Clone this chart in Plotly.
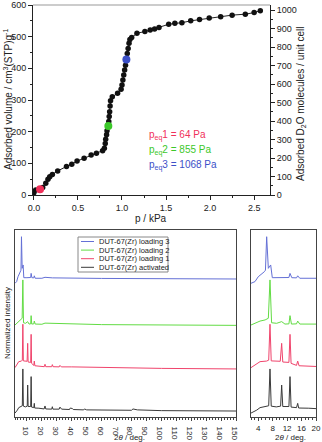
import plotly.graph_objects as go

# ---------------- Isotherm data (top panel) ----------------
iso_p = [0.0, 0.02, 0.07, 0.10, 0.135, 0.16, 0.18, 0.21, 0.27, 0.37, 0.43, 0.49, 0.57, 0.65, 0.71,
         0.78, 0.80, 0.81, 0.815, 0.825, 0.83, 0.845, 0.85, 0.855, 0.86, 0.865, 0.87, 0.89, 0.95,
         0.99, 1.0, 1.01, 1.02, 1.03, 1.04, 1.05, 1.06, 1.07, 1.08, 1.09, 1.11, 1.17, 1.26, 1.32,
         1.37, 1.42, 1.53, 1.60, 1.68, 1.78, 1.88, 1.99, 2.12, 2.25, 2.40, 2.50, 2.57]
iso_v = [7, 16, 18, 24, 37, 50, 58, 65, 76, 90, 97, 107, 116, 126, 132,
         140, 148, 163, 176, 190, 203, 218, 232, 248, 263, 281, 298, 310, 321,
         334, 347, 363, 379, 395, 410, 428, 447, 463, 479, 491, 497, 511, 516, 521,
         524, 529, 539, 542, 544, 550, 554, 559, 563, 568, 571, 576, 582]

eq_p = [0.07, 0.845, 1.05]
eq_v = [18, 218, 428]
eq_colors = ["#f0305a", "#3cc82a", "#3c50c8"]
eq_labels = ["p<sub>eq</sub>1 = 64 Pa", "p<sub>eq</sub>2 = 855 Pa", "p<sub>eq</sub>3 = 1068 Pa"]

# ---------------- PXRD data (bottom panels) ----------------
black_tt = [2.0, 3.1, 3.6, 4.5, 6.3, 6.9, 7.26, 7.6, 9.0, 10.2, 10.49, 10.8, 12.5, 12.8, 13.1,
            14.6, 14.93, 15.2, 18, 20, 21.5, 22.1, 22.6, 26.6, 27.0, 27.4, 31.6, 32.1, 32.6, 33.2,
            38.5, 39.0, 40.5, 41.0, 48.0, 48.5, 50.0, 60.0, 80.0, 81.0, 84.0, 100.0, 150.0]
black_i = [2.1, 3.0, 3.7, 5.0, 5.5, 6.0, 25.7, 5.8, 5.4, 5.8, 17.1, 5.6, 5.6, 21.6, 5.3,
           5.0, 7.3, 4.8, 4.7, 4.6, 4.3, 5.9, 4.3, 4.2, 5.5, 4.2, 4.2, 5.3, 4.8, 4.2,
           4.0, 4.8, 4.5, 4.0, 3.8, 4.3, 3.8, 3.7, 3.6, 4.3, 3.8, 3.4, 3.2]

red_tt = [2.0, 3.1, 4.5, 6.3, 6.9, 7.26, 7.6, 10.1, 10.49, 10.8, 12.5, 12.8, 13.1, 14.6, 14.93,
          15.3, 20, 21.6, 22.1, 22.6, 26.6, 27.0, 27.5, 31.6, 32.1, 33.0, 40.0, 60.0, 100.0, 150.0]
red_i = [26.4, 27.8, 29.6, 29.9, 30.4, 49.6, 30.0, 29.8, 39.4, 29.4, 29.2, 44.2, 28.7, 27.6, 29.9,
         27.4, 27.0, 26.9, 28.2, 26.9, 26.9, 28.0, 26.9, 26.8, 27.6, 26.8, 26.8, 26.5, 26.0, 25.7]

green_tt = [2.0, 3.6, 4.5, 5.9, 6.8, 7.26, 7.7, 9.1, 10.49, 11.4, 12.5, 12.8, 13.2, 14.6, 14.93,
            15.5, 20, 22.1, 27.0, 60.0, 150.0]
green_i = [49.2, 50.4, 51.3, 51.9, 52.8, 73.3, 50.4, 50.1, 51.0, 49.7, 49.8, 54.2, 49.7, 49.8, 51.3,
           49.7, 49.6, 50.2, 50.1, 49.4, 49.0]

blue_tt = [2.0, 3.1, 4.0, 4.95, 5.7, 6.0, 6.34, 6.8, 7.45, 7.9, 10.0, 12.5, 12.8, 13.3, 14.6, 14.93,
           15.5, 20, 22.1, 27.0, 60.0, 150.0]
blue_i = [71.5, 72.4, 75.0, 76.3, 77.7, 78.5, 96.4, 79.5, 81.3, 74.5, 74.5, 74.6, 76.8, 74.5, 74.4, 75.5,
          74.2, 74.2, 74.7, 74.4, 74.1, 73.8]

series_names = ["DUT-67(Zr) loading 3", "DUT-67(Zr) loading 2", "DUT-67(Zr) loading 1", "DUT-67(Zr) activated"]
series_tt = [blue_tt, green_tt, red_tt, black_tt]
series_i = [blue_i, green_i, red_i, black_i]
series_colors = ["#6470d6", "#62dc44", "#f0446c", "#3a3a3a"]

FONT = "Liberation Sans, Arial, sans-serif"
W, H = 322, 442


def px(x):
    return x / W


def py(y):
    return 1 - y / H


fig = go.Figure()

# isotherm
fig.add_trace(go.Scatter(x=iso_p, y=iso_v, mode="lines+markers",
                         line=dict(color="#222222", width=1),
                         marker=dict(color="#111111", size=5.5),
                         xaxis="x", yaxis="y", showlegend=False))
fig.add_trace(go.Scatter(x=eq_p, y=eq_v, mode="markers",
                         marker=dict(color=eq_colors, size=8),
                         xaxis="x", yaxis="y", showlegend=False))
# invisible trace to activate right axis
fig.add_trace(go.Scatter(x=[None], y=[None], xaxis="x", yaxis="y2", showlegend=False))

# PXRD
for tt, ii, c in zip(series_tt, series_i, series_colors):
    fig.add_trace(go.Scatter(x=tt, y=ii, mode="lines", line=dict(color=c, width=1),
                             xaxis="x2", yaxis="y3", showlegend=False))
    fig.add_trace(go.Scatter(x=tt, y=ii, mode="lines", line=dict(color=c, width=1),
                             xaxis="x3", yaxis="y4", showlegend=False))

axis_common = dict(showgrid=False, zeroline=False, showline=True, ticks="outside", automargin=False,
                   tickfont=dict(family=FONT, size=9, color="#222"))
small_tick = dict(family=FONT, size=8, color="#222")

top_y = [py(195), py(5)]
bot_y = [py(417), py(230)]

fig.update_layout(
    width=W, height=H, margin=dict(l=0, r=0, t=0, b=0, autoexpand=False),
    paper_bgcolor="white", plot_bgcolor="white",
    font=dict(family=FONT, color="#222"),
    xaxis=dict(domain=[px(33), px(270)], anchor="y", range=[-0.01, 2.68], dtick=0.5, tick0=0,
               tickformat=".1f", linecolor="#222", ticklen=4, tickcolor="#222",
               minor=dict(dtick=0.25, ticks="outside", ticklen=2, tickcolor="#222"), **axis_common),
    yaxis=dict(domain=top_y, anchor="x", range=[0, 600], dtick=100, linecolor="#222", ticklen=4,
               tickcolor="#222", minor=dict(dtick=50, ticks="outside", ticklen=2, tickcolor="#222"),
               **axis_common),
    yaxis2=dict(overlaying="y", side="right", anchor="x", range=[0, 1027], dtick=100,
                linecolor="#222", ticklen=4, tickcolor="#222",
                minor=dict(dtick=50, ticks="outside", ticklen=2, tickcolor="#222"), **axis_common),
    xaxis2=dict(domain=[px(15), px(236)], anchor="y3", range=[2, 150], dtick=10, tick0=0,
                mirror=True, linecolor="#444", ticklen=3, tickcolor="#444",
                minor=dict(dtick=2, ticks="outside", ticklen=2, tickcolor="#444"),
                **{**axis_common, "tickfont": small_tick}),
    yaxis3=dict(domain=bot_y, anchor="x2", range=[0, 100], showgrid=False, zeroline=False, automargin=False,
                showline=True, mirror=True, linecolor="#444", showticklabels=False, ticks=""),
    xaxis3=dict(domain=[px(251), px(316)], anchor="y4", range=[2, 20], dtick=4, tick0=0,
                mirror=True, linecolor="#444", ticklen=3, tickcolor="#444",
                minor=dict(dtick=1, ticks="outside", ticklen=2, tickcolor="#444"),
                **{**axis_common, "tickfont": small_tick}),
    yaxis4=dict(domain=bot_y, anchor="x3", range=[0, 100], showgrid=False, zeroline=False, automargin=False,
                showline=True, mirror=True, linecolor="#444", showticklabels=False, ticks=""),
)

shapes = [dict(type="line", xref="paper", yref="paper", x0=px(33), x1=px(270), y0=py(5), y1=py(5),
               line=dict(color="#999", width=1))]
annotations = []


def ann(text, x, y, size, color="#222", angle=0, xanchor="center"):
    annotations.append(dict(text=text, x=px(x), y=py(y), xref="paper", yref="paper",
                            xanchor=xanchor, yanchor="middle", textangle=angle, showarrow=False,
                            font=dict(family=FONT, size=size, color=color)))


# Axis titles (top)
ann("Adsorbed volume / cm<sup>3</sup>(STP)g<sup>-1</sup>", 8, 100, 10, angle=-90)
ann("Adsorbed D<sub>2</sub>O molecules / unit cell", 301, 104, 10, angle=-90)
ann("p / kPa", 151, 218, 10)
for lab, col, yy in zip(eq_labels, eq_colors, [135, 150.5, 165]):
    ann(lab, 147, yy, 10, color=col, xanchor="left")

# Axis titles (bottom)
ann("Normalized intensity", 7, 323, 8, angle=-90)
ann("2<i>θ</i> / deg.", 129, 437, 8)
ann("2<i>θ</i> / deg.", 290, 437, 8)

# Manual legend
shapes.append(dict(type="rect", xref="paper", yref="paper", x0=px(78), x1=px(168), y0=py(272), y1=py(237),
                   line=dict(color="#888", width=1), fillcolor="white"))
for k, (name, col) in enumerate(zip(series_names, series_colors)):
    yy = 241.5 + k * 8.6
    shapes.append(dict(type="line", xref="paper", yref="paper", x0=px(81), x1=px(94), y0=py(yy), y1=py(yy),
                       line=dict(color=col, width=1)))
    ann(name, 97, yy, 7.5, xanchor="left")

fig.update_layout(shapes=shapes, annotations=annotations)
fig.write_html("out.html", config={"displayModeBar": False},
               post_script="document.body.style.margin='0';document.body.style.overflow='hidden';")
